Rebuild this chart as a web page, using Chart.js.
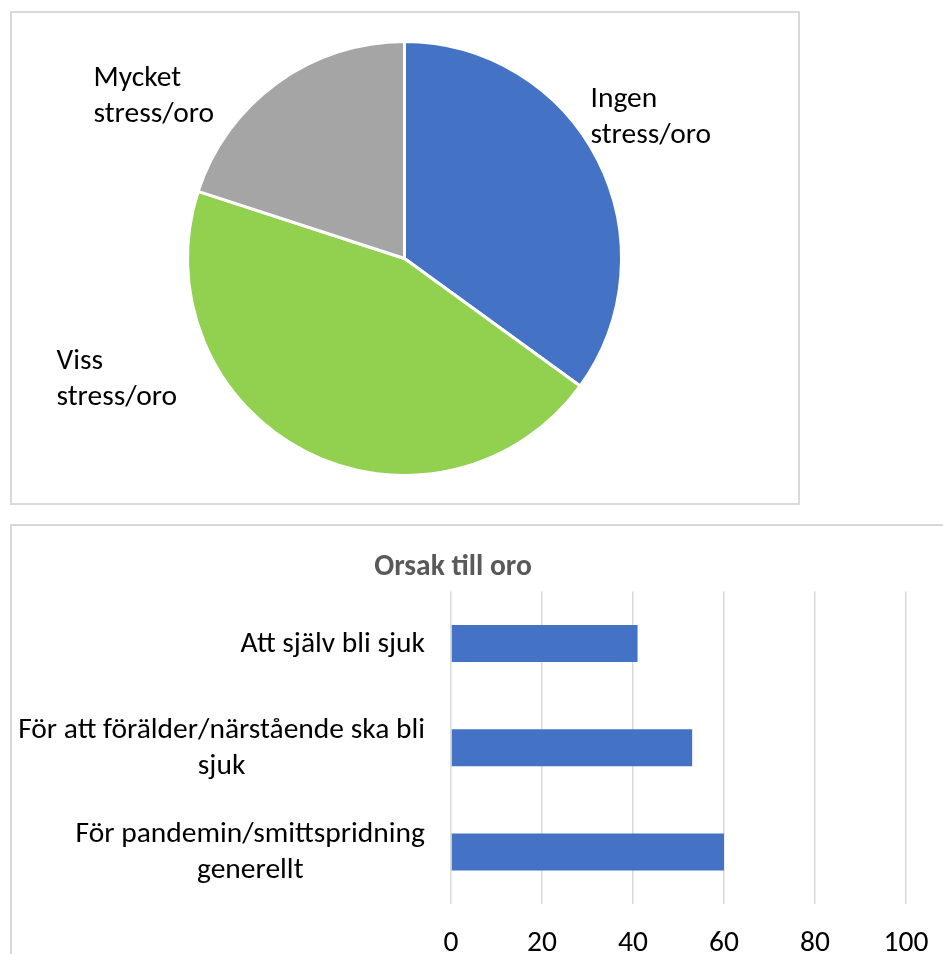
<!DOCTYPE html>
<html lang="sv">
<head>
    <meta charset="UTF-8" />
    <title>Stress/oro</title>
    <script src="https://cdn.jsdelivr.net/npm/chart.js"></script>
    <style>
        * {
            box-sizing: border-box;
            margin: 0;
            padding: 0;
        }

        body {
            background: #ffffff;
            width: 943px;
            height: 954px;
            overflow: hidden;
            position: relative;
            font-family: 'Carlito', 'Calibri', sans-serif;
        }

        .frame {
            position: absolute;
            border: 2px solid #d9d9d9;
        }

        #pieFrame { left: 10px; top: 11px; width: 790px; height: 494px; }
        #barFrame { left: 10px; top: 524px; width: 960px; height: 460px; }

        .chart-wrap {
            position: absolute;
            left: 0;
        }

        #pieWrap { top: 0; width: 943px; height: 520px; }
        #barWrap { top: 520px; width: 965px; height: 434px; }
    </style>
</head>
<body>
    <div class="frame" id="pieFrame"></div>
    <div class="frame" id="barFrame"></div>
    <div class="chart-wrap" id="pieWrap"><canvas id="pieChart"></canvas></div>
    <div class="chart-wrap" id="barWrap"><canvas id="barChart"></canvas></div>

    <script>
        // pie data (clockwise from the top)
        const pieLabels = [['Ingen', 'stress/oro'], ['Viss', 'stress/oro'], ['Mycket', 'stress/oro']];
        const pieValues = [35, 45, 20];
        const pieColors = ['#4472c4', '#92d050', '#a5a5a5'];

        // bar data
        const barTitle = 'Orsak till oro';
        const barCategories = [
            ['Att själv bli sjuk'],
            ['För att förälder/närstående ska bli', 'sjuk'],
            ['För pandemin/smittspridning', 'generellt']
        ];
        const barValues = [41, 53, 60];
        const xMin = 0, xMax = 100, xStep = 20;

        const FONT = "'Carlito', 'Calibri', sans-serif";
        const FONT_SIZE = 29.5;
        const LINE_GAP = 36;

        // pie labels, placed relative to the pie centre (left edge, block centre)
        const pieLabelPlugin = {
            id: 'pieLabels',
            afterDatasetsDraw(chart, args, opts) {
                const ctx = chart.ctx;
                const meta = chart.getDatasetMeta(0);
                ctx.save();
                ctx.font = FONT_SIZE + 'px ' + FONT;
                ctx.fillStyle = '#000000';
                ctx.textAlign = 'left';
                ctx.textBaseline = 'middle';
                meta.data.forEach((arc, i) => {
                    const lines = chart.data.labels[i];
                    const [dx, dy] = opts.offsets[i];
                    const top = arc.y + dy - (lines.length - 1) * LINE_GAP / 2;
                    lines.forEach((line, j) => ctx.fillText(line, arc.x + dx, top + j * LINE_GAP));
                });
                ctx.restore();
            }
        };

        new Chart(document.getElementById('pieChart'), {
            type: 'pie',
            data: {
                labels: pieLabels,
                datasets: [{
                    data: pieValues,
                    backgroundColor: pieColors,
                    borderColor: '#ffffff',
                    borderWidth: 3
                }]
            },
            options: {
                responsive: true,
                maintainAspectRatio: false,
                animation: false,
                layout: { padding: { left: 186, top: 40, right: 320, bottom: 43 } },
                plugins: {
                    legend: { display: false },
                    tooltip: { enabled: false },
                    pieLabels: { offsets: [[186, -141], [-348, 121], [-311, -162]] }
                }
            },
            plugins: [pieLabelPlugin]
        });

        // category labels: block right-aligned to the axis, lines centred inside it
        const catLabelPlugin = {
            id: 'catLabels',
            afterDraw(chart, args, opts) {
                const ctx = chart.ctx;
                const yScale = chart.scales.y;
                const right = chart.chartArea.left - opts.gap;
                ctx.save();
                ctx.font = FONT_SIZE + 'px ' + FONT;
                ctx.fillStyle = '#000000';
                ctx.textAlign = 'center';
                ctx.textBaseline = 'middle';
                chart.data.labels.forEach((lines, i) => {
                    const cy = yScale.getPixelForValue(i) + 1;
                    const w = Math.max(...lines.map(l => ctx.measureText(l).width));
                    const top = cy - (lines.length - 1) * LINE_GAP / 2;
                    lines.forEach((line, j) => ctx.fillText(line, right - w / 2, top + j * LINE_GAP));
                });
                ctx.restore();
            }
        };

        new Chart(document.getElementById('barChart'), {
            type: 'bar',
            data: {
                labels: barCategories,
                datasets: [{
                    data: barValues,
                    backgroundColor: '#4472c4',
                    categoryPercentage: 0.355,
                    barPercentage: 1
                }]
            },
            options: {
                indexAxis: 'y',
                responsive: true,
                maintainAspectRatio: false,
                animation: false,
                layout: { padding: { left: 0, right: 59, top: 0, bottom: 0 } },
                plugins: {
                    legend: { display: false },
                    tooltip: { enabled: false },
                    title: {
                        display: true,
                        text: barTitle,
                        color: '#595959',
                        font: { family: FONT, size: FONT_SIZE, weight: 'bold' },
                        padding: { top: 30, bottom: 6 }
                    },
                    catLabels: { gap: 26 }
                },
                scales: {
                    x: {
                        min: xMin,
                        max: xMax,
                        ticks: {
                            stepSize: xStep,
                            color: '#000000',
                            padding: 22,
                            font: { family: FONT, size: FONT_SIZE }
                        },
                        grid: { color: '#d9d9d9', lineWidth: 1.5, drawTicks: false },
                        border: { display: false },
                        afterFit(scale) { scale.height = 50; }
                    },
                    y: {
                        ticks: { display: false },
                        grid: { display: false },
                        border: { display: false },
                        afterFit(scale) { scale.width = 451; }
                    }
                }
            },
            plugins: [catLabelPlugin]
        });
    </script>
</body>
</html>
